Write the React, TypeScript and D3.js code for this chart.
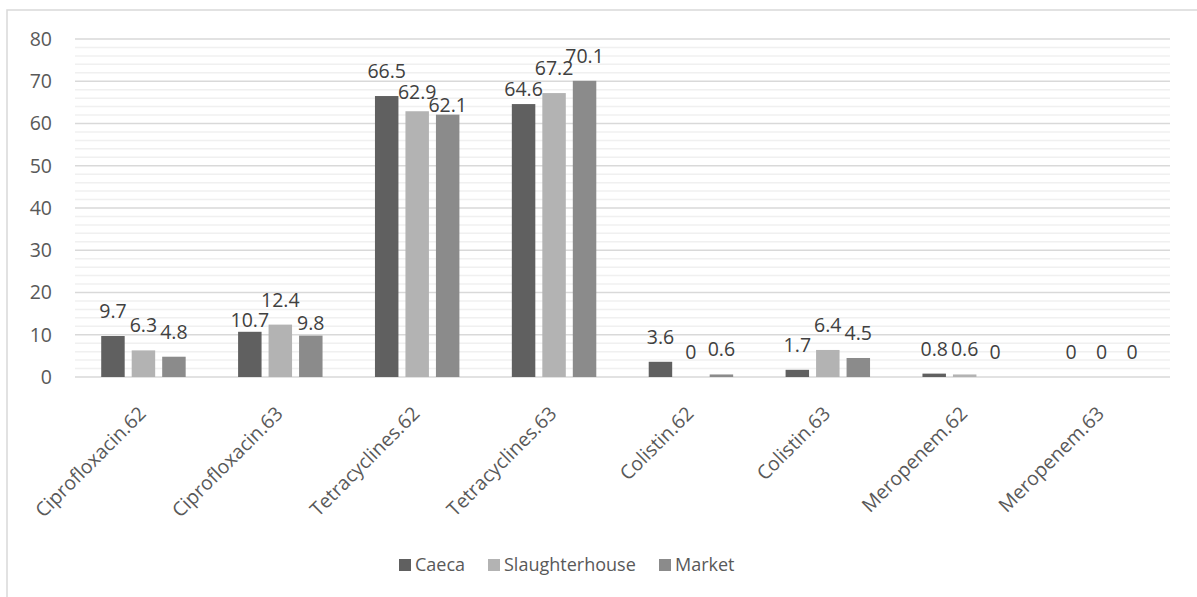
import React from "react";
import * as d3 from "d3";

// Categories and series values
const categories = [
  "Ciprofloxacin.62",
  "Ciprofloxacin.63",
  "Tetracyclines.62",
  "Tetracyclines.63",
  "Colistin.62",
  "Colistin.63",
  "Meropenem.62",
  "Meropenem.63",
];
const seriesNames = ["Caeca", "Slaughterhouse", "Market"];
const caeca = [9.7, 10.7, 66.5, 64.6, 3.6, 1.7, 0.8, 0];
const slaughterhouse = [6.3, 12.4, 62.9, 67.2, 0, 6.4, 0.6, 0];
const market = [4.8, 9.8, 62.1, 70.1, 0.6, 4.5, 0, 0];
const yTicks = [0, 10, 20, 30, 40, 50, 60, 70, 80];

const seriesValues = [caeca, slaughterhouse, market];
const seriesColors = ["#606060", "#b3b3b3", "#8b8b8b"];

// Distance (px) from bar top to label baseline; a few labels sit closer to their bars
const defaultLift = 18;
const liftOverrides: Record<string, number> = {
  "1-0": 5,
  "1-2": 6,
  "2-1": 12,
  "2-2": 3,
  "3-0": 8,
};

const W = 1197;
const H = 597;
const plot = { left: 75, right: 1170, top: 39, bottom: 377 };
const font = "'Open Sans', 'DejaVu Sans', sans-serif";
const fs = 19.5;

export default function App() {
  const x0 = d3
    .scaleBand<string>()
    .domain(categories)
    .range([plot.left, plot.right])
    .paddingInner(0.383)
    .paddingOuter(0.1915);
  const x1 = d3
    .scaleBand<string>()
    .domain(seriesNames)
    .range([0, x0.bandwidth()])
    .paddingInner(0.23)
    .paddingOuter(0);
  const y = d3.scaleLinear().domain([0, 80]).range([plot.bottom, plot.top]);
  const minorTicks = d3.range(0, 81, 2).filter((v) => v % 10 !== 0);

  return (
    <svg
      width={W}
      height={H}
      style={{ position: "absolute", left: 0, top: 0, background: "#fff" }}
      fontFamily={font}
    >
      <rect x={0} y={0} width={W} height={H} fill="#fff" />
      {/* chart frame */}
      <rect
        x={7}
        y={10}
        width={W + 20}
        height={H + 20}
        fill="none"
        stroke="#d9d9d9"
        strokeWidth={1.5}
      />
      {/* minor gridlines */}
      {minorTicks.map((t) => (
        <line
          key={"m" + t}
          x1={plot.left}
          x2={plot.right}
          y1={y(t)}
          y2={y(t)}
          stroke="#f0f0f0"
          strokeWidth={1.5}
        />
      ))}
      {/* major gridlines and tick labels */}
      {yTicks.map((t) => (
        <g key={"t" + t}>
          <line
            x1={plot.left}
            x2={plot.right}
            y1={y(t)}
            y2={y(t)}
            stroke="#d9d9d9"
            strokeWidth={1.5}
          />
          <text
            x={52}
            y={y(t)}
            dy="0.35em"
            textAnchor="end"
            fontSize={fs}
            fill="#595959"
          >
            {t}
          </text>
        </g>
      ))}
      {/* bars */}
      {categories.map((c, ci) => (
        <g key={c} transform={`translate(${x0(c)},0)`}>
          {seriesNames.map((s, si) => {
            const v = seriesValues[si][ci];
            return (
              <rect
                key={s}
                x={x1(s)}
                y={y(v)}
                width={x1.bandwidth()}
                height={plot.bottom - y(v)}
                fill={seriesColors[si]}
              />
            );
          })}
        </g>
      ))}
      {/* data labels */}
      {categories.map((c, ci) =>
        seriesNames.map((s, si) => {
          const v = seriesValues[si][ci];
          const lift = liftOverrides[`${ci}-${si}`] ?? defaultLift;
          return (
            <text
              key={c + s}
              x={(x0(c) ?? 0) + (x1(s) ?? 0) + x1.bandwidth() / 2}
              y={y(v) - lift}
              textAnchor="middle"
              fontSize={fs}
              fill="#404040"
            >
              {v}
            </text>
          );
        })
      )}
      {/* category labels */}
      {categories.map((c) => {
        const cx = (x0(c) ?? 0) + x0.bandwidth() / 2 - 1;
        const cy = plot.bottom + 33;
        return (
          <text
            key={"x" + c}
            transform={`translate(${cx},${cy}) rotate(-45)`}
            textAnchor="end"
            dy="0.35em"
            fontSize={fs}
            fill="#595959"
          >
            {c}
          </text>
        );
      })}
      {/* legend */}
      {seriesNames.map((s, i) => {
        const lx = [399, 488, 659][i];
        return (
          <g key={"l" + s}>
            <rect x={lx} y={559} width={12} height={12} fill={seriesColors[i]} />
            <text x={lx + 16} y={565} dy="0.35em" fontSize={18} fill="#595959">
              {s}
            </text>
          </g>
        );
      })}
    </svg>
  );
}
